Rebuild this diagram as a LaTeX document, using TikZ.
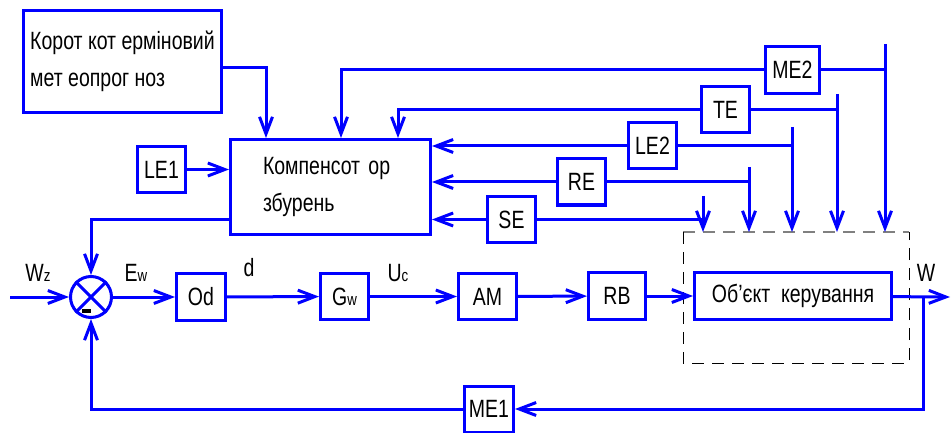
\documentclass[tikz,border=0pt]{standalone}
\usepackage{fontspec}
\setmainfont{Liberation Sans}[FakeStretch=0.78]
\usetikzlibrary{arrows.meta}

\newcommand{\subl}[1]{{\fontsize{17}{17}\selectfont #1}}

\begin{document}
\begin{tikzpicture}[x=1pt, y=-1pt, line width=3pt,
    >={Straight Barb[length=17pt, width=13pt]},
    every node/.style={font=\fontsize{25}{37}\selectfont},
    blk/.style={draw=blue, line width=3pt, inner sep=0pt, minimum width=48pt, minimum height=46pt},
    link/.style={->, draw=blue},
    wire/.style={draw=blue}]

\useasboundingbox (0,0) rectangle (951,433);

% --- UPPER PART: forecast and compensator ---
\node[blk, minimum width=198pt, minimum height=102pt, align=left] (fcst) at (122.5,61.5)
    {Корот кот ерміновий\\мет еопрог ноз};
\node[blk, minimum width=200pt, minimum height=95pt, text width=135pt, align=left] (comp) at (330.5,187)
    {Компенсот ор\\збурень};
\node[blk] (le1) at (161.5,169.5) {LE1};

% --- DISTURBANCE SENSORS ---
\node[blk, minimum width=54pt, minimum height=47pt] (me2) at (792.5,70) {ME2};
\node[blk] (te) at (725.5,110) {TE};
\node[blk] (le2) at (652.5,146) {LE2};
\node[blk] (re) at (581.5,182) {RE};
\node[blk] (se) at (511.5,219.5) {SE};

% --- MAIN LOOP ---
\node[draw=blue, line width=3pt, circle, minimum size=41pt, inner sep=0pt] (sum) at (91,297) {};
\node[blk, minimum width=49pt, minimum height=47pt] (od) at (201,297) {Od};
\node[blk] (gw) at (344.5,296.5) {G\subl{w}};
\node[blk, minimum width=58pt] (am) at (487.5,296.5) {AM};
\node[blk, minimum width=57pt, minimum height=47pt] (rb) at (617,296) {RB};
\node[blk, minimum width=197pt, minimum height=47pt] (obj) at (793,296) {Об’єкт\ \ керування};
\node[blk, minimum width=49pt] (me1) at (489,409) {ME1};

% signal labels
\node (wz) at (38,273) {W\subl{z}};
\node (ew) at (136,273) {E\subl{w}};
\node (dl) at (249,268) {d};
\node (uc) at (398,273) {U\subl{c}};
\node (wl) at (926,273) {W};

% cross in the summing junction
\draw[wire] (sum.north west) -- (sum.south east);
\draw[wire] (sum.north east) -- (sum.south west);
\node[fill=black, inner sep=0pt, minimum width=9pt, minimum height=4pt] (minus) at (86.5,311) {};

% --- OBJECT BOUNDARY ---
\draw[gray, line width=1.2pt, dash pattern=on 12pt off 8pt] (683,232) -- (909,232);
\draw[black, line width=0.8pt, dash pattern=on 12pt off 8pt] (683,232) -- (683,363) -- (909,363) -- (909,232);

% --- COORDINATES ---
\coordinate (in) at (10,297);
\coordinate (out) at (950,297);
\coordinate (br) at (923,297);
\coordinate (t1) at (703,196);
\coordinate (t2) at (749,167);
\coordinate (t3) at (792,127);
\coordinate (t4) at (837,94);
\coordinate (t5) at (885,44);
\coordinate (b1) at (703,232);
\coordinate (b2) at (749,232);
\coordinate (b3) at (792,232);
\coordinate (b4) at (837,232);
\coordinate (b5) at (885,232);

% forward path
\draw[link] (in) -- (sum);
\draw[link] (sum) -- (od);
\draw[link] (od) -- (gw);
\draw[link] (gw) -- (am);
\draw[link] (am) -- (rb);
\draw[link] (rb) -- (obj);
\draw[link] (obj) -- (out);

% feedback
\draw[link] (br) |- (me1);
\draw[link] (me1) -| (sum);

% compensator inputs and output
\draw[link] ([yshift=-6.5pt]fcst.east) -| ([xshift=-64.5pt]comp.north);
\draw[link] (le1) -- (comp.west |- le1);
\draw[link] (me2) -| ([xshift=10.5pt]comp.north);
\draw[link] (te) -| ([xshift=67.5pt]comp.north);
\draw[link] (le2) -- (comp.east |- le2);
\draw[link] (re) -- (comp.east |- re);
\draw[link] (se) -- (comp.east |- se);
\draw[link] (comp.west |- se) -| (sum);

% disturbances acting on the object
\draw[wire] (se) -- (se -| t1);
\draw[wire] (re) -- (re -| t2);
\draw[wire] (le2) -- (le2 -| t3);
\draw[wire] (te) -- (te -| t4);
\draw[wire] (me2) -- (me2 -| t5);
\draw[link] (t1) -- (b1);
\draw[link] (t2) -- (b2);
\draw[link] (t3) -- (b3);
\draw[link] (t4) -- (b4);
\draw[link] (t5) -- (b5);

\end{tikzpicture}
\end{document}
